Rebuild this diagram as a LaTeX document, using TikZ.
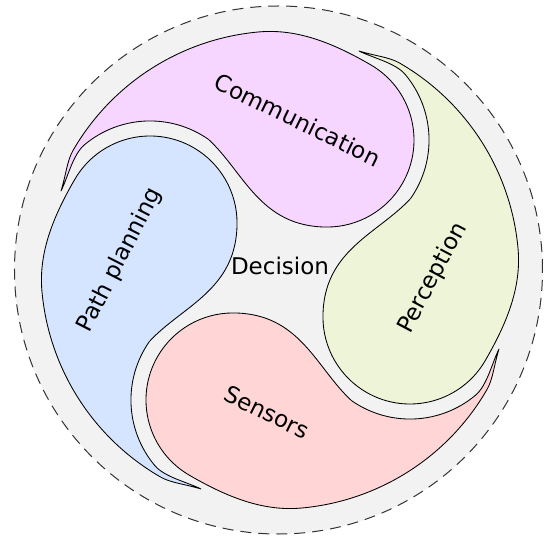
\documentclass[tikz,border=0pt]{standalone}
\usepackage{fontspec}
\setmainfont{DejaVu Sans}
\definecolor{bgray}{HTML}{F2F2F2}
\definecolor{cpink}{HTML}{F6D5FF}
\definecolor{cblue}{HTML}{D5E5FF}
\definecolor{cgreen}{HTML}{EEF4D7}
\definecolor{cred}{HTML}{FFD5D5}
\newcommand\tomoeshape[1]{%
  \path[shapeline,#1] (-219,79) .. controls (-214,95) and (-213,109.1) .. (-207,119.5)
    arc[start angle=150, end angle=95, radius=239]
    .. controls (19,241.6) and (55.9,225.3) .. (90.5,205.3)
    arc[start angle=60, end angle=-90, radius=87]
    .. controls (-20,43) and (-36,98) .. (-71.5,130.6)
    arc[start angle=55, end angle=130, radius=102]
    .. controls (-207.1,115.5) and (-212,93) .. (-219,79) -- cycle;}
\begin{document}
\begin{tikzpicture}[x=1pt,y=1pt,
  shapeline/.style={draw=black,line width=0.85pt,line join=round},
  lbl/.style={inner sep=0pt,font=\fontsize{23}{27}\selectfont}]
\useasboundingbox (-280,-268) rectangle (269,270);
\path[fill=bgray,draw=black!80,line width=1pt,dash pattern=on 11pt off 7pt] (-1.5,0) circle[radius=264];
\tomoeshape{fill=cpink}
\tomoeshape{fill=cgreen,rotate=-90}
\tomoeshape{fill=cred,rotate=-180}
\tomoeshape{fill=cblue,rotate=-270}
\node[lbl,rotate=-26] (comm) at (18,150) {Communication};
\node[lbl,rotate=62] (perc) at (153,-8) {Perception};
\node[lbl,rotate=-26] (sens) at (-13,-142) {Sensors};
\node[lbl,rotate=63] (pathp) at (-160,10) {Path planning};
\node[lbl] (dec) at (0,4) {Decision};
\end{tikzpicture}
\end{document}
